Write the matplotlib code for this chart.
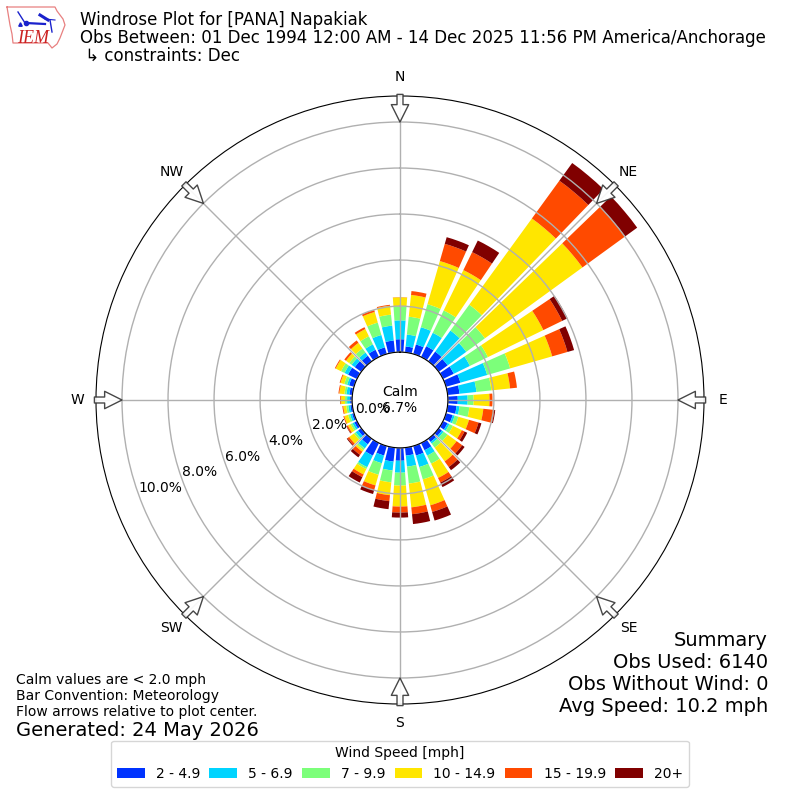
import matplotlib
matplotlib.use("Agg")
import matplotlib.pyplot as plt
import numpy as np

# direction bins, degrees from north
directions = [0,10,20,30,40,50,60,70,80,90,100,110,120,130,140,150,160,170,
              180,190,200,210,220,230,240,250,260,270,280,290,300,310,320,330,340,350]

# percent of obs per speed bin
spd_2_5 = [.56,.26,.43,.52,.52,.48,.52,.65,.52,.43,.39,.30,.22,.17,.17,.35,.43,.35,
           .56,.61,.43,.61,.30,.17,.13,.09,.09,.09,.13,.22,.43,.35,.30,.35,.30,.52]
spd_5_7 = [.82,.52,.78,.65,1.13,1.0,.78,1.21,.74,.43,.13,.09,.09,.09,.09,.26,.52,.48,
           .52,.39,.35,.56,.22,.13,.09,.09,.09,.13,.13,.09,.17,.17,.17,.26,.56,.65]
spd_7_10 = [.61,.78,1.04,1.08,1.39,1.0,.87,1.04,.65,.26,.43,.17,.17,.22,.22,.39,.56,.74,
            .56,.52,.52,.09,.09,.09,.09,.09,.09,.09,.09,.13,.17,.13,.22,.39,.56,.48]
spd_10_15 = [.39,.95,1.95,1.95,4.63,5.24,2.68,1.90,.82,.69,.61,.48,.43,.48,.74,.69,1.17,1.04,
             .91,.56,.48,.26,.09,.26,.13,.17,.13,.17,.22,.17,.26,.17,.30,.35,.48,.39]
spd_15_20 = [.01,.17,.78,.87,2.03,2.29,.91,.69,.30,.13,.48,.43,.13,.30,.30,.22,.30,.30,
             .26,.26,.22,.13,.17,.09,.06,.04,.04,.04,.04,.04,.04,.09,.13,.09,.09,.04]
spd_20 = [0,0,.30,.56,.95,.65,.26,.30,0,0,.04,.13,.13,.13,.17,.22,.39,.43,
          .22,.35,.17,.26,.13,.04,.02,0,0,0,0,0,0,0,0,0,0,0]

speed_bins = [spd_2_5, spd_5_7, spd_7_10, spd_10_15, spd_15_20, spd_20]
speed_labels = ["2 - 4.9", "5 - 6.9", "7 - 9.9", "10 - 14.9", "15 - 19.9", "20+"]
colors = ["#0033ff", "#00d4ff", "#7cff7a", "#ffe600", "#ff4a00", "#800000"]

ring_ticks = [0, 2, 4, 6, 8, 10]
dir_ticks = [0, 45, 90, 135, 180, 225, 270, 315]
dir_labels = ["N", "NE", "E", "SE", "S", "SW", "W", "NW"]
calm_pct = "6.7%"

title_lines = ["Windrose Plot for [PANA] Napakiak",
               "Obs Between: 01 Dec 1994 12:00 AM - 14 Dec 2025 11:56 PM America/Anchorage",
               " \u21b3 constraints: Dec"]
summary_lines = ["Summary", "Obs Used: 6140", "Obs Without Wind: 0", "Avg Speed: 10.2 mph"]
note_lines = ["Calm values are < 2.0 mph", "Bar Convention: Meteorology", "Flow arrows relative to plot center."]

fig = plt.figure(figsize=(8, 8), dpi=100)
ax = fig.add_axes([0.12, 0.12, 0.76, 0.76], projection="polar")
ax.set_theta_zero_location("N")
ax.set_theta_direction(-1)

theta = np.radians(directions)
bottom = np.zeros(len(directions))
for vals, color, label in zip(speed_bins, colors, speed_labels):
    ax.bar(theta, vals, width=np.radians(8), bottom=bottom, color=color, label=label, linewidth=0)
    bottom += np.array(vals)

ax.set_rorigin(-2.08)
ax.set_ylim(0, 11.13)
ax.set_yticks(ring_ticks)
ax.set_yticklabels(["%.1f%%" % r for r in ring_ticks])
ax.set_rlabel_position(250)
ax.set_xticks(np.radians(dir_ticks))
ax.set_xticklabels(dir_labels)
ax.tick_params(axis="x", pad=3.2)
ax.grid(True, color="#b0b0b0", linewidth=1)

# flow arrows from the rim in to the 10% ring
for d in dir_ticks:
    ax.annotate("", xy=(np.radians(d), 10.0), xytext=(np.radians(d), 11.2),
                xycoords="data", textcoords="data", annotation_clip=False,
                arrowprops=dict(facecolor="white", edgecolor="#333333", width=4.3, headwidth=12.5,
                                headlength=12.5, linewidth=1, shrink=0, alpha=0.9))

ax.text(0.5, 0.5, "Calm\n" + calm_pct, transform=ax.transAxes, ha="center", va="center", fontsize=10)

for i, line in enumerate(title_lines):
    fig.text(80 / 800, 1 - (20 + i * 18) / 800, line, fontsize=12.015, va="center", ha="left")
for i, line in enumerate(summary_lines):
    fig.text(768 / 800, 1 - (640 + i * 22) / 800, line, fontsize=14, va="center", ha="right")
for i, line in enumerate(note_lines):
    fig.text(16 / 800, 1 - (680 + i * 16) / 800, line, fontsize=10, va="center", ha="left")
fig.text(16 / 800, 1 - 730 / 800, "Generated: 24 May 2026", fontsize=14, va="center", ha="left")

handles, labels = ax.get_legend_handles_labels()
fig.legend(handles, labels, loc="lower center", bbox_to_anchor=(0.5, 0.008), ncol=6,
           title="Wind Speed [mph]", fontsize=10, columnspacing=0.66)

# logo
logo = fig.add_axes([5 / 800, 1 - 52 / 800, 62 / 800, 48 / 800])
logo.set_xlim(0, 62)
logo.set_ylim(48, 0)
logo.axis("off")
outline_x = [2, 50, 52, 58, 60, 55, 52, 47, 43, 8, 7, 5, 2]
outline_y = [3, 3, 7, 15, 21, 34, 40, 44, 39, 39, 30, 21, 3]
logo.plot(outline_x, outline_y, color="#e88080", linewidth=0.9)
logo.plot([21, 40], [19, 20], color="#1a22cc", linewidth=1.6)
logo.plot([13, 20], [8, 19], color="#1a22cc", linewidth=1.0)
logo.plot([35, 43], [11, 16], color="#1a22cc", linewidth=2.2)
logo.plot([40, 50], [15, 16], color="#1a22cc", linewidth=0.8)
logo.plot([45, 47], [16, 28], color="#1a22cc", linewidth=1)
logo.plot([21], [19], "o", color="#1a22cc", markersize=3)
logo.plot([15], [20], "^", color="#1a22cc", markersize=2.5)
logo.text(12, 39, "IEM", fontsize=13, color="#cc2222", family="Liberation Serif", style="italic", va="baseline")

fig.savefig("out.png", dpi=100)
